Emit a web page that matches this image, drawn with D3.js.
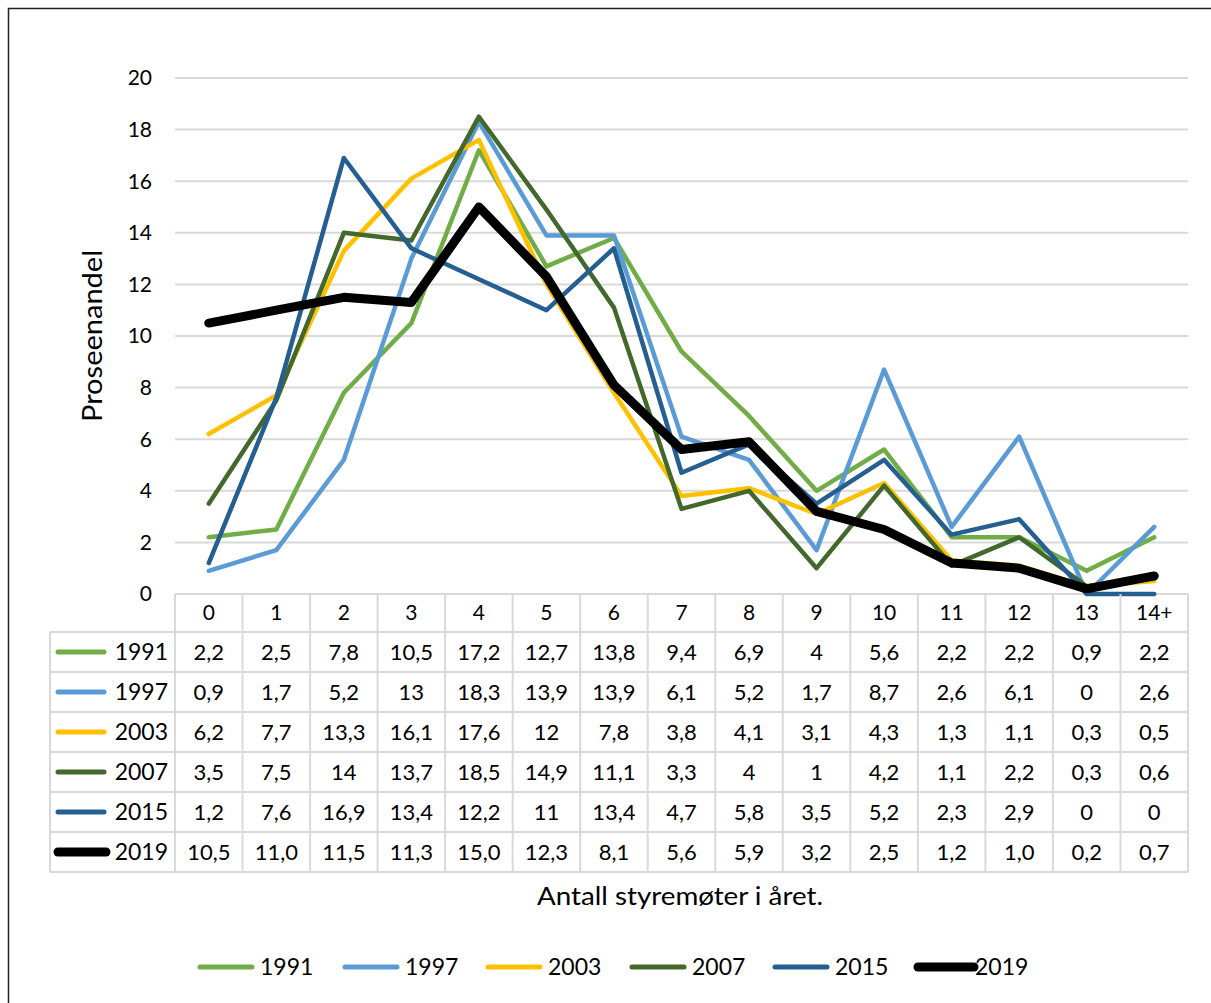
<!DOCTYPE html>
<html><head><meta charset="utf-8">
<script src="https://cdn.jsdelivr.net/npm/d3@7"></script>
<style>body{margin:0;background:#fff;} svg{display:block;}</style>
</head><body>
<svg id="c" width="1211" height="1003"></svg>
<script>
const categories = ["0","1","2","3","4","5","6","7","8","9","10","11","12","13","14+"];
const seriesNames = ["1991","1997","2003","2007","2015","2019"];
const s1991 = [2.2,2.5,7.8,10.5,17.2,12.7,13.8,9.4,6.9,4,5.6,2.2,2.2,0.9,2.2];
const s1997 = [0.9,1.7,5.2,13,18.3,13.9,13.9,6.1,5.2,1.7,8.7,2.6,6.1,0,2.6];
const s2003 = [6.2,7.7,13.3,16.1,17.6,12,7.8,3.8,4.1,3.1,4.3,1.3,1.1,0.3,0.5];
const s2007 = [3.5,7.5,14,13.7,18.5,14.9,11.1,3.3,4,1,4.2,1.1,2.2,0.3,0.6];
const s2015 = [1.2,7.6,16.9,13.4,12.2,11,13.4,4.7,5.8,3.5,5.2,2.3,2.9,0,0];
const s2019 = [10.5,11.0,11.5,11.3,15.0,12.3,8.1,5.6,5.9,3.2,2.5,1.2,1.0,0.2,0.7];
const tableLabels = [
 ["2,2","2,5","7,8","10,5","17,2","12,7","13,8","9,4","6,9","4","5,6","2,2","2,2","0,9","2,2"],
 ["0,9","1,7","5,2","13","18,3","13,9","13,9","6,1","5,2","1,7","8,7","2,6","6,1","0","2,6"],
 ["6,2","7,7","13,3","16,1","17,6","12","7,8","3,8","4,1","3,1","4,3","1,3","1,1","0,3","0,5"],
 ["3,5","7,5","14","13,7","18,5","14,9","11,1","3,3","4","1","4,2","1,1","2,2","0,3","0,6"],
 ["1,2","7,6","16,9","13,4","12,2","11","13,4","4,7","5,8","3,5","5,2","2,3","2,9","0","0"],
 ["10,5","11,0","11,5","11,3","15,0","12,3","8,1","5,6","5,9","3,2","2,5","1,2","1,0","0,2","0,7"]
];
const yTicks = [0,2,4,6,8,10,12,14,16,18,20];
const colors = ["#70AD47","#5B9BD5","#FFC000","#43682B","#255E91","#000000"];
const widths = [4.5,4.5,4.5,4.5,4.5,9];
const allSeries = [s1991,s1997,s2003,s2007,s2015,s2019];

const font = "'Gill Sans','Gill Sans MT',Lato,'Open Sans',sans-serif";
const svg = d3.select("#c");
svg.append("rect").attr("x",8.5).attr("y",8.5).attr("width",1230).attr("height",1010)
  .attr("fill","#fff").attr("stroke","#222").attr("stroke-width",1.5);

const L=175, R=1188, T=78, B=594;
const x = d3.scaleBand().domain(categories).range([L,R]);
const y = d3.scaleLinear().domain([0,20]).range([B,T]);
const grid="#d9d9d9";

svg.append("g").selectAll("line").data(yTicks).join("line")
  .attr("x1",L).attr("x2",R).attr("y1",d=>y(d)).attr("y2",d=>y(d))
  .attr("stroke",grid).attr("stroke-width",2);
svg.append("g").selectAll("text").data(yTicks).join("text")
  .attr("x",152).attr("y",d=>y(d)).attr("dy","0.35em").attr("text-anchor","end")
  .attr("font-family",font).attr("font-size",21).attr("fill","#000").text(d=>d);

svg.append("text").attr("transform","translate(102,336) rotate(-90)")
  .attr("text-anchor","middle").attr("font-family",font).attr("font-size",26)
  .attr("textLength",172).attr("lengthAdjust","spacingAndGlyphs").text("Proseenandel");

const line = d3.line().x((d,i)=>x(categories[i])+x.bandwidth()/2).y(d=>y(d));
allSeries.forEach((s,k)=>{
  svg.append("path").datum(s).attr("d",line).attr("fill","none")
    .attr("stroke",colors[k]).attr("stroke-width",widths[k]).attr("stroke-linejoin","round").attr("stroke-linecap","round");
});

// table
const rowH = 40, headTop=B, headB=632;
const rowsTop = headB;
const tb = svg.append("g");
categories.forEach((c,i)=>{
  tb.append("text").attr("x",x(c)+x.bandwidth()/2).attr("y",(headTop+headB)/2).attr("dy","0.35em")
    .attr("text-anchor","middle").attr("font-family",font).attr("font-size",21).text(c);
});
const lineG = tb.append("g").attr("stroke",grid).attr("stroke-width",2);
d3.range(categories.length+1).forEach(i=>{
  const xx = i<categories.length ? x(categories[i]) : R;
  lineG.append("line").attr("x1",xx).attr("x2",xx).attr("y1",headTop).attr("y2",rowsTop+rowH*6);
});
lineG.append("line").attr("x1",50).attr("x2",50).attr("y1",rowsTop).attr("y2",rowsTop+rowH*6);
d3.range(7).forEach(j=>{
  lineG.append("line").attr("x1",50).attr("x2",R).attr("y1",rowsTop+j*rowH).attr("y2",rowsTop+j*rowH);
});
seriesNames.forEach((n,j)=>{
  const cy = rowsTop+j*rowH+rowH/2;
  tb.append("line").attr("x1",58).attr("x2",j===5?106:104).attr("y1",cy).attr("y2",cy)
    .attr("stroke",colors[j]).attr("stroke-width",j===5?9:5).attr("stroke-linecap","round");
  tb.append("text").attr("x",168).attr("y",cy).attr("dy","0.35em").attr("text-anchor","end")
    .attr("font-family",font).attr("font-size",23).text(n);
  tableLabels[j].forEach((v,i)=>{
    tb.append("text").attr("x",x(categories[i])+x.bandwidth()/2).attr("y",cy).attr("dy","0.35em")
      .attr("text-anchor","middle").attr("font-family",font).attr("font-size",22).text(v);
  });
});

svg.append("text").attr("x",680).attr("y",896).attr("dy","0.35em").attr("text-anchor","middle")
  .attr("font-family",font).attr("font-size",25)
  .attr("textLength",286).attr("lengthAdjust","spacingAndGlyphs").text("Antall styremøter i året.");

// legend
const legX = [200,345,488,632,775,918];
seriesNames.forEach((n,j)=>{
  const g = svg.append("g");
  g.append("line").attr("x1",legX[j]).attr("x2",legX[j]+(j===5?56:52)).attr("y1",967).attr("y2",967)
    .attr("stroke",colors[j]).attr("stroke-width",j===5?9:5).attr("stroke-linecap","round");
  g.append("text").attr("x",legX[j]+(j===5?57:60)).attr("y",967).attr("dy","0.35em")
    .attr("font-family",font).attr("font-size",23).text(n);
});
</script>
</body></html>
